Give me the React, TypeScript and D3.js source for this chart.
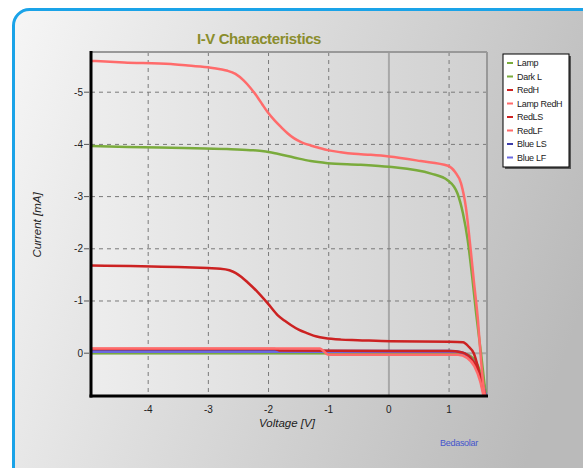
import React from "react";
import * as d3 from "d3";

const W = 583;
const H = 468;

const xTicks = [-4, -3, -2, -1, 0, 1];
const yTicks = [-5, -4, -3, -2, -1, 0];

const seriesNames = ["Lamp", "Dark L", "RedH", "Lamp RedH", "RedLS", "RedLF", "Blue LS", "Blue LF"];
const seriesColors = ["#7aab3c", "#7aab3c", "#cc2222", "#ff6b6b", "#cc2222", "#ff6b6b", "#3c3ca8", "#6a6ae0"];

const lampV = [-4.95, -4.34, -3.4, -2.69, -2.3, -2.08, -1.85, -1.58, -1.3, -1.02, -0.47, 0.0, 0.7, 0.98, 1.14, 1.23, 1.31, 1.39, 1.45, 1.53, 1.6, 1.63];
const lampI = [-3.97, -3.95, -3.93, -3.91, -3.89, -3.87, -3.82, -3.75, -3.68, -3.64, -3.61, -3.57, -3.44, -3.31, -3.06, -2.68, -2.16, -1.4, -0.76, 0.0, 0.7, 0.95];

const darkV = [-4.95, 1.0, 1.25, 1.4, 1.5, 1.58, 1.63];
const darkI = [0.0, 0.0, 0.01, 0.1, 0.3, 0.6, 0.9];

const redHV = [-4.95, -3.51, -3.01, -2.8, -2.65, -2.55, -2.45, -2.35, -2.18, -2.01, -1.85, -1.73, -1.63, -1.5, -1.35, -1.2, -1.07, -0.8, -0.52, 0.03, 1.0, 1.23, 1.33, 1.41, 1.48, 1.55, 1.6];
const redHI = [-1.68, -1.65, -1.63, -1.62, -1.59, -1.54, -1.46, -1.36, -1.17, -0.95, -0.73, -0.62, -0.54, -0.45, -0.38, -0.32, -0.29, -0.26, -0.25, -0.23, -0.22, -0.21, -0.12, 0.0, 0.27, 0.65, 0.9];

const lampRedHV = [-4.95, -4.4, -3.62, -3.34, -2.96, -2.8, -2.68, -2.55, -2.41, -2.3, -2.18, -2.1, -2.01, -1.9, -1.79, -1.68, -1.58, -1.45, -1.3, -1.15, -1.02, -0.8, -0.58, -0.3, 0.0, 0.53, 0.98, 1.1, 1.2, 1.28, 1.36, 1.41, 1.48, 1.53, 1.58, 1.62];
const lampRedHI = [-5.6, -5.57, -5.54, -5.51, -5.47, -5.44, -5.41, -5.35, -5.22, -5.08, -4.9, -4.76, -4.61, -4.46, -4.33, -4.21, -4.12, -4.04, -3.98, -3.93, -3.89, -3.85, -3.82, -3.8, -3.77, -3.68, -3.59, -3.47, -3.25, -2.79, -1.97, -1.4, -0.63, 0.13, 0.71, 0.95];

const redLSV = [-4.95, -1.9, -1.8, 1.0, 1.2, 1.35, 1.47, 1.56, 1.61];
const redLSI = [-0.08, -0.08, -0.05, -0.04, -0.02, 0.08, 0.3, 0.6, 0.85];

const redLFV = [-4.95, -1.15, -1.0, 1.15, 1.3, 1.42, 1.52, 1.58, 1.62];
const redLFI = [-0.09, -0.09, 0.03, 0.03, 0.09, 0.25, 0.55, 0.85, 0.95];

const blueLSV = [-4.95, 1.0, 1.2, 1.32, 1.43, 1.52, 1.58, 1.63];
const blueLSI = [-0.045, -0.04, -0.02, 0.06, 0.22, 0.45, 0.7, 0.9];

const blueLFV = [-4.95, 1.1, 1.25, 1.37, 1.47, 1.55, 1.62];
const blueLFI = [-0.03, -0.03, 0.0, 0.1, 0.3, 0.55, 0.85];

const seriesV = [lampV, darkV, redHV, lampRedHV, redLSV, redLFV, blueLSV, blueLFV];
const seriesI = [lampI, darkI, redHI, lampRedHI, redLSI, redLFI, blueLSI, blueLFI];
const drawOrder = [1, 0, 6, 7, 4, 2, 3, 5];

const PL = 91, PR = 487, PT = 52, PB = 396;

export default function App() {
  const x = d3.scaleLinear().domain([-4.95, 1.63]).range([PL, PR]);
  const y = d3.scaleLinear().domain([-5.77, 0.82]).range([PT, PB]);
  const line = d3
    .line<[number, number]>()
    .x((d) => x(d[0]))
    .y((d) => y(d[1]))
    .curve(d3.curveMonotoneX);

  const legX = 503, legY = 54, legW = 66, legH = 113;

  return (
    <svg width={W} height={H} style={{ position: "absolute", left: 0, top: 0 }} fontFamily="Liberation Sans, Arial, sans-serif">
      <defs>
        <linearGradient id="panelG" x1="0" y1="0" x2="1" y2="0.3">
          <stop offset="0" stopColor="#f6f6f6" />
          <stop offset="1" stopColor="#bababa" />
        </linearGradient>
        <linearGradient id="plotG" x1="0" y1="0" x2="1" y2="0">
          <stop offset="0" stopColor="#ededed" />
          <stop offset="1" stopColor="#d0d0d0" />
        </linearGradient>
        <clipPath id="plotClip">
          <rect x={PL} y={PT} width={PR - PL} height={PB - PT} />
        </clipPath>
      </defs>
      <rect x={0} y={0} width={W} height={H} fill="#ffffff" />
      <rect x={13.5} y={9.5} width={620} height={520} rx={16} ry={16} fill="url(#panelG)" stroke="#1aa3e8" strokeWidth={3} />

      <text x={259} y={44} textAnchor="middle" fontSize={15} fontWeight="bold" fill="#8a8d2c" letterSpacing={-0.4}>
        I-V Characteristics
      </text>

      <rect x={PL} y={PT} width={PR - PL} height={PB - PT} fill="url(#plotG)" />

      {xTicks.map((t) => (
        <line key={"gx" + t} x1={x(t)} x2={x(t)} y1={PT} y2={PB}
          stroke={t === 0 ? "#a8a8a8" : "#7a7a7a"} strokeWidth={t === 0 ? 2 : 1}
          strokeDasharray={t === 0 ? undefined : "4,4"} />
      ))}
      {yTicks.map((t) => (
        <line key={"gy" + t} x1={PL} x2={PR} y1={y(t)} y2={y(t)}
          stroke={t === 0 ? "#a8a8a8" : "#7a7a7a"} strokeWidth={t === 0 ? 2 : 1}
          strokeDasharray={t === 0 ? undefined : "4,4"} />
      ))}
      <line x1={PL} x2={PR} y1={PT} y2={PT} stroke="#999" strokeWidth={2} />
      <line x1={PR} x2={PR} y1={PT} y2={PB} stroke="#999" strokeWidth={2} />

      <g clipPath="url(#plotClip)">
        {drawOrder.map((k) => (
          <path key={seriesNames[k]}
            d={line(seriesV[k].map((v, i) => [v, seriesI[k][i]] as [number, number])) || ""}
            fill="none" stroke={seriesColors[k]} strokeWidth={2.5} />
        ))}
      </g>

      <line x1={PL} x2={PL} y1={PT - 1} y2={PB + 1.5} stroke="#000" strokeWidth={3} />
      <line x1={PL - 1.5} x2={PR + 1} y1={PB} y2={PB} stroke="#000" strokeWidth={3} />

      {yTicks.map((t) => (
        <g key={"yl" + t}>
          <line x1={PL - 7} x2={PL - 2} y1={y(t)} y2={y(t)} stroke="#555" strokeWidth={1} />
          <text x={PL - 8} y={y(t) + 3.5} textAnchor="end" fontSize={10} fill="#222">{t}</text>
        </g>
      ))}
      {xTicks.map((t) => (
        <text key={"xl" + t} x={x(t)} y={PB + 17} textAnchor="middle" fontSize={10} fill="#222">{t}</text>
      ))}

      <text x={287} y={427} textAnchor="middle" fontSize={11.5} fontStyle="italic" fill="#222">Voltage [V]</text>
      <text transform={`translate(41,${225}) rotate(-90)`} textAnchor="middle" fontSize={11.5} fontStyle="italic" fill="#222">Current [mA]</text>

      <text x={459} y={446} textAnchor="middle" fontSize={9} fill="#4455cc" letterSpacing={-0.3}>Bedasolar</text>

      <rect x={legX + 2} y={legY + 2} width={legW} height={legH} fill="#555" />
      <rect x={legX} y={legY} width={legW} height={legH} fill="#ffffff" stroke="#000" strokeWidth={1} />
      {seriesNames.map((n, i) => (
        <g key={"lg" + n}>
          <line x1={legX + 4} x2={legX + 10} y1={legY + 9 + i * 13.5} y2={legY + 9 + i * 13.5} stroke={seriesColors[i]} strokeWidth={2} />
          <text x={legX + 14} y={legY + 12 + i * 13.5} fontSize={9} fill="#222" letterSpacing={-0.3}>{n}</text>
        </g>
      ))}
    </svg>
  );
}
